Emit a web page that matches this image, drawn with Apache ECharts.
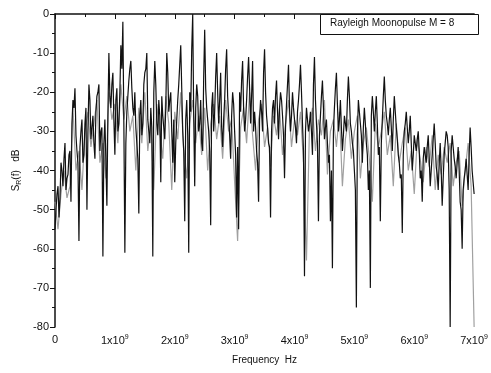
<!DOCTYPE html>
<html><head><meta charset="utf-8">
<script src="https://cdn.jsdelivr.net/npm/echarts@6/dist/echarts.min.js"></script>
<style>html,body{margin:0;padding:0;background:#fff}#c{width:491px;height:373px}</style>
</head><body><div id="c"></div>
<script>
// Frequency grid (Hz)
const fMax = 7e9;
const darkStep = 7e9 / 420;    // sample spacing of the dark trace
const grayStep = 7e9 / 140;    // sample spacing of the light trace
// Dark trace, S_R(f) in dB: even samples (peaks/dips)
const blackVals = [
-55,-46,-52,-38,-44,-33,-42,-36,-48,-22,-19,-35,-58,-30,-38,-28,-50,-18,-32,-26,
-37,-21,-18,-30,-62,-27,-49,-10,-24,-15,-36,-19,-28,-8,-2,-61,-25,-17,-12,-24,
-20,-33,-51,-22,-28,-15,-10,-30,-24,-62,-12,-28,-22,-43,-26,-32,-10,-25,-20,-38,
-43,-27,-18,-8,-30,-53,-22,-61,-25,0,-44,-18,-30,-22,-35,-4,-24,-30,-54,-20,
-25,-10,-28,-15,-34,-22,-9,-26,-37,-20,-30,-52,-55,-25,-12,-30,-22,-11,-28,-12,
-25,-35,-48,-22,-30,-9,-26,-33,-52,-24,-28,-17,-32,-20,-26,-42,-23,-13,-30,-20,
-27,-33,-22,-13,-28,-67,-24,-30,-25,-36,-11,-28,-53,-26,-17,-32,-27,-38,-53,-65,
-24,-15,-30,-22,-35,-26,-30,-16,-28,-33,-40,-75,-22,-28,-38,-24,-33,-45,-70,-21,
-30,-21,-36,-53,-27,-16,-26,-31,-24,-35,-21,-29,-36,-42,-56,-30,-25,-33,-26,-40,
-31,-35,-30,-42,-48,-34,-38,-31,-44,-36,-28,-39,-45,-33,-49,-36,-30,-34,-80,-31,
-37,-42,-34,-48,-60,-42,-37,-45,-29,-40,-46
];
// Dark trace, odd samples (in between)
const midVals = [
-50,-44,-47,-40,-37,-45,-41,-35,-28,-24,
-31,-38,-34,-27,-36,-24,-30,-22,-29,-33,
-25,-20,-35,-29,-33,-38,-26,-21,-18,-27,
-22,-30,-20,-14,-28,-33,-21,-14,-19,-26,
-29,-37,-26,-31,-18,-14,-27,-33,-29,-20,
-18,-31,-26,-21,-29,-24,-15,-22,-30,-27,
-33,-22,-13,-19,-35,-27,-31,-20,-9,-26,
-24,-21,-28,-33,-16,-19,-27,-35,-24,-30,
-16,-20,-22,-29,-27,-14,-21,-31,-26,-23,
-36,-34,-20,-17,-24,-27,-16,-19,-21,-30,
-29,-38,-27,-25,-15,-20,-29,-34,-30,-22,
-21,-25,-24,-22,-31,-29,-18,-24,-26,-24,
-29,-25,-18,-20,-35,-30,-27,-28,-30,-18,
-22,-33,-31,-21,-24,-29,-33,-36,-40,-30,
-19,-23,-27,-29,-31,-28,-22,-21,-30,-35,
-45,-31,-25,-31,-29,-28,-36,-40,-26,-25,
-25,-28,-34,-33,-21,-22,-28,-27,-29,-27,
-25,-32,-38,-41,-36,-28,-29,-30,-33,-36,
-33,-32,-35,-40,-37,-36,-34,-37,-40,-32,
-33,-41,-38,-40,-42,-33,-31,-45,-35,-34,
-39,-38,-40,-50,-45,-40,-41,-36,-34,-43
];
// Light trace, S_R(f) in dB
const grayVals = [
-48,-55,-46,-40,-47,-44,-24,-40,-35,-45,-30,-25,-34,-28,-22,-38,-33,-42,-20,-27,
-23,-33,-18,-27,-21,-30,-26,-40,-24,-33,-20,-35,-27,-45,-23,-30,-37,-21,-28,-45,
-25,-32,-20,-35,-42,-28,-22,-33,-26,-36,-24,-40,-28,-23,-32,-26,-37,-22,-30,-27,
-43,-58,-29,-24,-33,-20,-31,-40,-27,-23,-34,-29,-39,-26,-31,-24,-36,-28,-22,-34,
-27,-31,-25,-38,-63,-29,-24,-35,-27,-31,-22,-41,-30,-27,-34,-25,-44,-32,-27,-37,
-30,-26,-42,-33,-29,-37,-48,-28,-34,-30,-25,-36,-31,-44,-28,-38,-33,-29,-40,-35,
-46,-32,-37,-43,-34,-39,-31,-45,-36,-41,-34,-38,-33,-44,-38,-35,-49,-40,-33,-44,
-80
];
// Axis ticks
const yTicks = [-80, -70, -60, -50, -40, -30, -20, -10, 0];
const legendText = 'Rayleigh Moonopulse M = 8';

const darkData = [];
for (let k = 0; k < blackVals.length * 2 - 1; k++) {
  const v = (k % 2 === 0) ? blackVals[k / 2] : midVals[(k - 1) / 2];
  darkData.push([k * darkStep, v]);
}
const grayData = grayVals.map((v, i) => [i * grayStep, v]);

const chart = echarts.init(document.getElementById('c'), null, {renderer: 'canvas'});
const font = 'Liberation Sans, Arial, sans-serif';
chart.setOption({
  animation: false,
  backgroundColor: '#fff',
  grid: {left: 55, right: 16, top: 14, bottom: 46, containLabel: false},
  xAxis: {
    type: 'value', min: 0, max: fMax, interval: 1e9,
    name: 'Frequency  Hz', nameLocation: 'middle', nameGap: 28,
    nameTextStyle: {color: '#111', fontFamily: font, fontSize: 10},
    axisLine: {show: true, lineStyle: {color: '#111', width: 1.5}},
    axisTick: {show: true, inside: false, length: 5, lineStyle: {color: '#111'}},
    minorTick: {show: true, splitNumber: 2, length: 3, lineStyle: {color: '#111'}},
    splitLine: {show: false},
    axisLabel: {
      color: '#111', fontFamily: font, fontSize: 11, margin: 7,
      formatter: function (v) {
        if (v === 0) return '0';
        const m = Math.round(v / 1e9);
        return m + 'x10{s|9}';
      },
      rich: {s: {fontSize: 7, verticalAlign: 'top', padding: [0, 0, 6, 0], color: '#111', fontFamily: font}}
    }
  },
  yAxis: {
    type: 'value', min: -80, max: 0, interval: 10,
    name: '{m|S}{sub|R}{m|(f)   dB}', nameLocation: 'middle', nameGap: 27, nameRotate: 90,
    nameTextStyle: {
      color: '#111', fontFamily: font, fontSize: 10,
      rich: {m: {fontSize: 10, fontFamily: font, color: '#111'},
             sub: {fontSize: 7, fontFamily: font, color: '#111', verticalAlign: 'bottom', padding: [5, 0, 0, 0]}}
    },
    axisLine: {show: true, lineStyle: {color: '#111', width: 1.5}},
    axisTick: {show: true, inside: false, length: 5, lineStyle: {color: '#111'}},
    minorTick: {show: true, splitNumber: 2, length: 3, lineStyle: {color: '#111'}},
    splitLine: {show: false},
    axisLabel: {color: '#111', fontFamily: font, fontSize: 11, margin: 6,
      formatter: function (v) { return yTicks.indexOf(v) >= 0 ? String(v) : ''; }}
  },
  series: [
    {type: 'line', data: grayData, showSymbol: false, symbol: 'none', sampling: null,
     lineStyle: {color: '#a0a0a0', width: 1.2}, z: 2},
    {type: 'line', data: darkData, showSymbol: false, symbol: 'none', sampling: null,
     lineStyle: {color: '#111', width: 1.2}, z: 3}
  ],
  graphic: [
    {type: 'rect', left: 320, top: 14, shape: {width: 158, height: 20},
     style: {fill: '#fff', stroke: '#111', lineWidth: 1}, z: 10},
    {type: 'text', left: 330, top: 18,
     style: {text: legendText, font: '10px ' + font, fill: '#111'}, z: 11}
  ]
});
</script>
</body></html>
